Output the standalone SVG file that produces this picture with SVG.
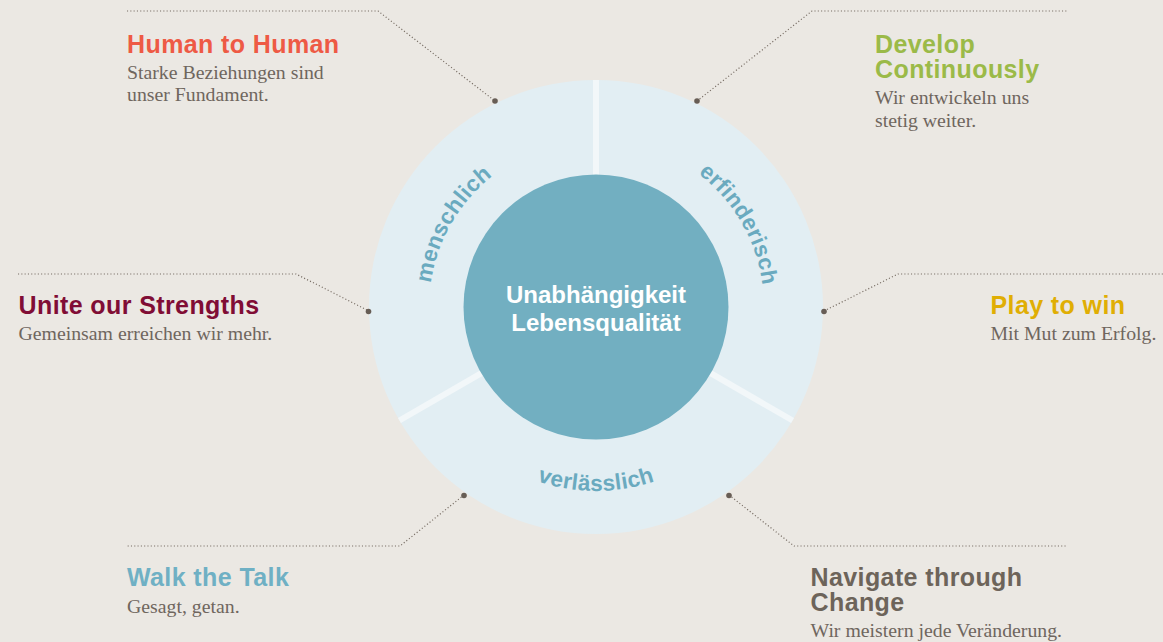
<svg xmlns="http://www.w3.org/2000/svg" width="1163" height="642" viewBox="0 0 1163 642">
<style>
.h{font-family:"Liberation Sans",Arial,sans-serif;font-weight:bold;font-size:25px;letter-spacing:0.4px}
.b{font-family:"Liberation Serif","Times New Roman",serif;font-size:19.8px;fill:#6f665e}
.ring{font-family:"Liberation Sans",Arial,sans-serif;font-weight:bold;font-size:22.5px;fill:#6aaabf;letter-spacing:0.3px}
.c{font-family:"Liberation Sans",Arial,sans-serif;font-weight:bold;font-size:24px;fill:#ffffff}
.con{fill:none;stroke:#776d64;stroke-width:1.2;stroke-dasharray:1.1 2.2}
.dot{fill:#675d55}
</style>
<defs>
<path id="pm" d="M451.4,390.5 A167,167 0 0 1 596,140"/>
<path id="pe" d="M596,139 A168,168 0 0 1 741.5,391"/>
<path id="pv" d="M436.7,399 A184,184 0 0 0 755.3,399"/>
</defs>
<rect width="1163" height="642" fill="#ebe8e3"/>
<g id="connectors">
<polyline class="con" points="127,11 378,11 495,101"/>
<polyline class="con" points="697,101 812,11 1067,11"/>
<polyline class="con" points="18,274 296,274 369,311"/>
<polyline class="con" points="824,311 898,274 1163,274"/>
<polyline class="con" points="464,495 400,546 127,546"/>
<polyline class="con" points="729,495 794,546 1067,546"/>
</g>
<g id="wheel">
<circle cx="596" cy="307" r="227" fill="#e2eef3"/>
<g stroke="#f2f7f9" stroke-width="6">
<line x1="596" y1="80" x2="596" y2="180"/>
<line x1="399.4" y1="420.5" x2="484" y2="371.7"/>
<line x1="792.6" y1="420.5" x2="708" y2="371.7"/>
</g>
<circle cx="596" cy="307" r="132.5" fill="#72afc1"/>
<text class="ring"><textPath href="#pm" startOffset="50%" text-anchor="middle">menschlich</textPath></text>
<text class="ring"><textPath href="#pe" startOffset="50%" text-anchor="middle">erfinderisch</textPath></text>
<text class="ring"><textPath href="#pv" startOffset="50%" text-anchor="middle">verlässlich</textPath></text>
<text class="c" x="596" y="303" text-anchor="middle">Unabhängigkeit</text>
<text class="c" x="596" y="330.5" text-anchor="middle">Lebensqualität</text>
</g>
<g id="dots">
<circle class="dot" cx="495" cy="101" r="2.8"/>
<circle class="dot" cx="697" cy="101" r="2.8"/>
<circle class="dot" cx="368.5" cy="311.5" r="2.8"/>
<circle class="dot" cx="824" cy="311.5" r="2.8"/>
<circle class="dot" cx="464" cy="495.5" r="2.8"/>
<circle class="dot" cx="729" cy="495.5" r="2.8"/>
</g>
<g id="human">
<text class="h" x="127" y="53" fill="#ee5a45">Human to Human</text>
<text class="b" x="127" y="79">Starke Beziehungen sind</text>
<text class="b" x="127" y="101">unser Fundament.</text>
</g>
<g id="develop">
<text class="h" x="875" y="53.3" fill="#9bba48">Develop</text>
<text class="h" x="875" y="78.3" fill="#9bba48">Continuously</text>
<text class="b" x="875" y="104">Wir entwickeln uns</text>
<text class="b" x="875" y="126.7">stetig weiter.</text>
</g>
<g id="unite">
<text class="h" x="18.5" y="314.3" fill="#800d35">Unite our Strengths</text>
<text class="b" x="18.5" y="340">Gemeinsam erreichen wir mehr.</text>
</g>
<g id="play">
<text class="h" x="990.5" y="313.5" fill="#e0ae04">Play to win</text>
<text class="b" x="990.5" y="340">Mit Mut zum Erfolg.</text>
</g>
<g id="walk">
<text class="h" x="127" y="586" fill="#6fb0c4">Walk the Talk</text>
<text class="b" x="127" y="612.5">Gesagt, getan.</text>
</g>
<g id="navigate">
<text class="h" x="810.5" y="585.5" fill="#6d645a">Navigate through</text>
<text class="h" x="810.5" y="610.5" fill="#6d645a">Change</text>
<text class="b" x="810.5" y="636.5">Wir meistern jede Veränderung.</text>
</g>
</svg>
